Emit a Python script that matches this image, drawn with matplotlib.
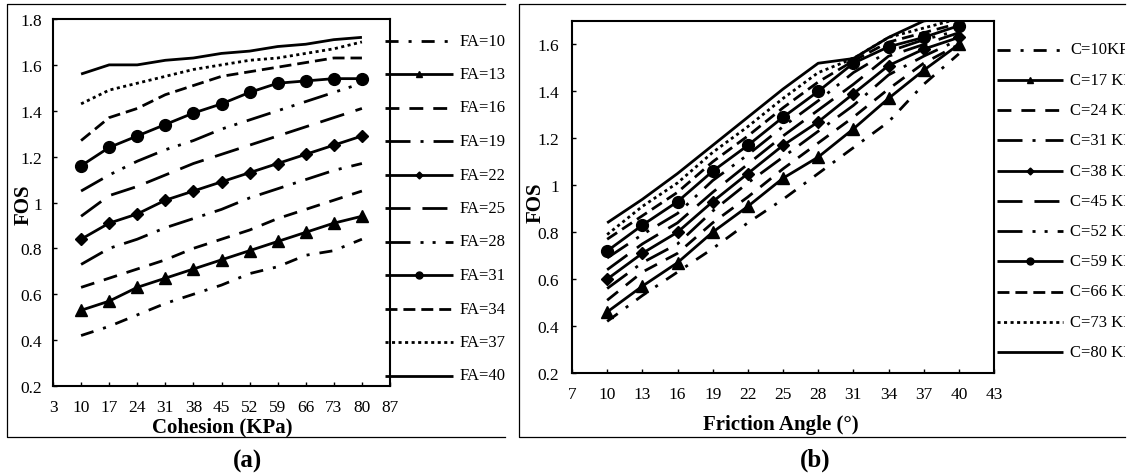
import matplotlib
matplotlib.use("Agg")
import matplotlib.pyplot as plt
from matplotlib.lines import Line2D
from matplotlib.transforms import Bbox, TransformedBbox

plt.rcParams["font.family"] = ["Liberation Serif", "DejaVu Serif"]
plt.rcParams["lines.scale_dashes"] = False

# ── datos ────────────────────────────────────────────────────────────────────
cohesion = [10, 17, 24, 31, 38, 45, 52, 59, 66, 73, 80]
friction = [10, 13, 16, 19, 22, 25, 28, 31, 34, 37, 40]

# FOS for each friction angle (rows) against cohesion (columns)
fa10 = [0.42, 0.46, 0.51, 0.56, 0.60, 0.64, 0.69, 0.72, 0.77, 0.79, 0.84]
fa13 = [0.53, 0.57, 0.63, 0.67, 0.71, 0.75, 0.79, 0.83, 0.87, 0.91, 0.94]
fa16 = [0.63, 0.67, 0.71, 0.75, 0.80, 0.84, 0.88, 0.93, 0.97, 1.01, 1.05]
fa19 = [0.73, 0.80, 0.84, 0.89, 0.93, 0.97, 1.02, 1.06, 1.10, 1.14, 1.17]
fa22 = [0.84, 0.91, 0.95, 1.01, 1.05, 1.09, 1.13, 1.17, 1.21, 1.25, 1.29]
fa25 = [0.94, 1.03, 1.07, 1.12, 1.17, 1.21, 1.25, 1.29, 1.33, 1.37, 1.41]
fa28 = [1.05, 1.12, 1.18, 1.23, 1.27, 1.32, 1.36, 1.40, 1.44, 1.48, 1.52]
fa31 = [1.16, 1.24, 1.29, 1.34, 1.39, 1.43, 1.48, 1.52, 1.53, 1.54, 1.54]
fa34 = [1.27, 1.37, 1.41, 1.47, 1.51, 1.55, 1.57, 1.59, 1.61, 1.63, 1.63]
fa37 = [1.43, 1.49, 1.52, 1.55, 1.58, 1.60, 1.62, 1.63, 1.65, 1.67, 1.70]
fa40 = [1.56, 1.60, 1.60, 1.62, 1.63, 1.65, 1.66, 1.68, 1.69, 1.71, 1.72]

fos_rows = [fa10, fa13, fa16, fa19, fa22, fa25, fa28, fa31, fa34, fa37, fa40]

fa_labels = ["FA=10", "FA=13", "FA=16", "FA=19", "FA=22", "FA=25",
             "FA=28", "FA=31", "FA=34", "FA=37", "FA=40"]
c_labels = ["C=10KPa", "C=17 KPa", "C=24 KPa", "C=31 KPa", "C=38 KPa", "C=45 KPa",
            "C=52 KPa", "C=59 KPa", "C=66 KPa", "C=73 KPa", "C=80 KPa"]

cohesion_ticks = [3, 10, 17, 24, 31, 38, 45, 52, 59, 66, 73, 80, 87]
friction_ticks = [7, 10, 13, 16, 19, 22, 25, 28, 31, 34, 37, 40, 43]

# ── estilos (uno por serie) ──────────────────────────────────────────────────
LW = 2.0
styles = [
    dict(dashes=(9.4, 7.2, 2.2, 7.2)),
    dict(marker="^", ms=8.5, lms=5),
    dict(dashes=(10, 7.2)),
    dict(dashes=(18, 7.2, 2.2, 7.2)),
    dict(marker="D", ms=6.5, lms=3.5),
    dict(dashes=(18, 8.6)),
    dict(dashes=(18, 7.2, 2.2, 6.5, 2.2, 7.2)),
    dict(marker="o", ms=8.5, lms=5),
    dict(dashes=(8.6, 4.3)),
    dict(dashes=(2.2, 2.5)),
    dict(),
]

W, H = 1132, 477
fig = plt.figure(figsize=(W / 100, H / 100), dpi=100)
fig.patch.set_facecolor("white")


def fx(x):
    return x / W


def fy(y):
    return 1 - y / H


def draw_series(ax, x, y, st):
    kw = dict(color="black", lw=LW, solid_capstyle="butt", dash_capstyle="butt")
    if "dashes" in st:
        kw["dashes"] = st["dashes"]
    if "marker" in st:
        kw["marker"] = st["marker"]
        kw["ms"] = st["ms"]
    ax.plot(x, y, **kw)


def draw_legend(labels, x0, x1, xt, y0, dy, clip_x):
    clip = TransformedBbox(Bbox([[0, 0], [fx(clip_x), 1]]), fig.transFigure)
    for i, (lab, st) in enumerate(zip(labels, styles)):
        y = fy(y0 + i * dy)
        kw = dict(color="black", lw=LW, solid_capstyle="butt", dash_capstyle="butt",
                  transform=fig.transFigure)
        if "dashes" in st:
            kw["dashes"] = st["dashes"]
        fig.add_artist(Line2D([fx(x0), fx(x1)], [y, y], **kw))
        if "marker" in st:
            fig.add_artist(Line2D([fx((x0 + x1) / 2)], [y], marker=st["marker"],
                                  ms=st["lms"], color="black", lw=0,
                                  transform=fig.transFigure))
        t = fig.text(fx(xt), y, lab, fontsize=12, va="center", ha="left")
        t.set_clip_box(clip)
        t.set_clip_on(True)


def style_axes(ax, xticks, ylim, xpad, ypad):
    ax.set_xlim(xticks[0], xticks[-1])
    ax.set_ylim(*ylim)
    ax.set_xticks(xticks)
    ax.set_xticklabels([str(v) for v in xticks])
    yt = [0.2, 0.4, 0.6, 0.8, 1.0, 1.2, 1.4, 1.6, 1.8]
    yt = [v for v in yt if v <= ylim[1] + 1e-9]
    ax.set_yticks(yt)
    ax.set_yticklabels([f"{v:g}" for v in yt])
    ax.tick_params(axis="x", direction="in", length=3, width=1, labelsize=12.5, pad=xpad)
    ax.tick_params(axis="y", direction="in", length=3, width=1, labelsize=12.5, pad=ypad)
    for s in ax.spines.values():
        s.set_linewidth(1.5)


# ── (a) FOS vs cohesion ──────────────────────────────────────────────────────
ax_a = fig.add_axes([fx(53), fy(387), 337 / W, 367 / H])
for row, st in zip(fos_rows, styles):
    draw_series(ax_a, cohesion, row, st)
style_axes(ax_a, cohesion_ticks, (0.2, 1.8), 9.5, 8)

# ── (b) FOS vs friction angle ────────────────────────────────────────────────
ax_b = fig.add_axes([fx(572), fy(374), 422 / W, 352 / H])
for j, st in enumerate(styles):
    col = [row[j] for row in fos_rows]
    draw_series(ax_b, friction, col, st)
style_axes(ax_b, friction_ticks, (0.2, 1.7), 9.5, 9.5)

# leyendas
draw_legend(fa_labels, 385, 453, 460, 41.5, 33.5, 505)
draw_legend(c_labels, 997, 1063, 1070, 50.5, 30.25, 1125)

# marcos exteriores
box = dict(color="black", lw=0.9, transform=fig.transFigure)
fig.add_artist(Line2D([fx(505), fx(7), fx(7), fx(505)], [fy(5), fy(5), fy(438), fy(438)], **box))
fig.add_artist(Line2D([fx(1125), fx(519), fx(519), fx(1125)], [fy(5), fy(5), fy(438), fy(438)], **box))

# textos
fig.text(fx(222), fy(432), "Cohesion (KPa)", fontsize=15, fontweight="bold", ha="center", va="baseline")
fig.text(fx(24), fy(205), "FOS", fontsize=15, fontweight="bold", ha="center", va="center", rotation=90)
fig.text(fx(248), fy(461), "(a)", fontsize=18, fontweight="bold", ha="center", va="center")
fig.text(fx(781), fy(430), "Friction Angle (°)", fontsize=15, fontweight="bold", ha="center", va="baseline")
fig.text(fx(536), fy(203), "FOS", fontsize=15, fontweight="bold", ha="center", va="center", rotation=90)
fig.text(fx(815), fy(460), "(b)", fontsize=18, fontweight="bold", ha="center", va="center")

fig.savefig("out.png", dpi=100, facecolor="white")
plt.close(fig)
